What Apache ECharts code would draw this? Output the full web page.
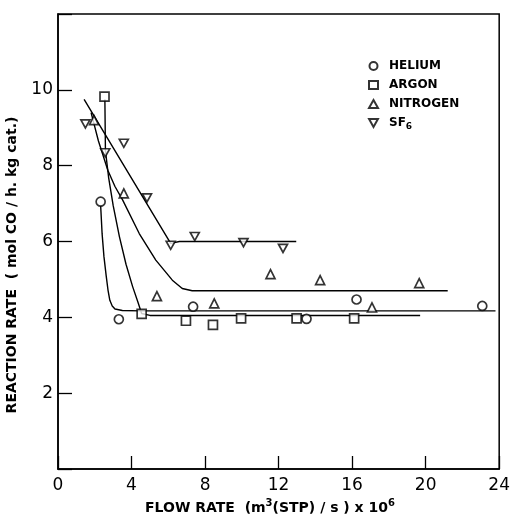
<!DOCTYPE html>
<html><head><meta charset="utf-8">
<script src="https://cdn.jsdelivr.net/npm/echarts@6/dist/echarts.min.js"></script>
<style>html,body{margin:0;padding:0;background:#fff}#c{width:513px;height:526px}</style>
</head><body><div id="c"></div>
<script>
// ---- data ----
const xTickValues = [0, 4, 8, 12, 16, 20, 24];
const yTickValues = [2, 4, 6, 8, 10];
const seriesNames = ['HELIUM', 'ARGON', 'NITROGEN', 'SF6'];

const heliumPts   = [[2.32, 7.05], [3.31, 3.95], [7.35, 4.28], [13.52, 3.96], [16.24, 4.47], [23.08, 4.30]];
const argonPts    = [[2.53, 9.82], [4.55, 4.09], [6.96, 3.91], [8.43, 3.80], [9.96, 3.97], [12.98, 3.97], [16.11, 3.97]];
const nitrogenPts = [[1.96, 9.20], [3.58, 7.27], [5.38, 4.56], [8.50, 4.37], [11.56, 5.14], [14.26, 4.98], [17.08, 4.26], [19.65, 4.90]];
const sf6Pts      = [[1.49, 9.10], [2.57, 8.34], [3.58, 8.59], [4.84, 7.15], [6.13, 5.90], [7.44, 6.13], [10.09, 5.97], [12.24, 5.82]];

// hand-drawn fitted curves
const heliumCurve   = [[2.32, 6.95], [2.40, 6.20], [2.50, 5.60], [2.62, 5.10], [2.72, 4.72], [2.82, 4.45], [2.95, 4.30], [3.10, 4.22], [3.50, 4.18], [4.5, 4.17], [23.8, 4.17]];
const argonCurve    = [[2.55, 9.75], [2.58, 8.40], [2.75, 7.70], [3.00, 6.95], [3.34, 6.13], [3.70, 5.40], [4.06, 4.81], [4.35, 4.40], [4.55, 4.10], [5.0, 4.05], [19.7, 4.05]];
const nitrogenCurve = [[1.80, 9.40], [2.20, 8.65], [2.71, 7.88], [3.10, 7.45], [3.52, 7.09], [4.42, 6.21], [5.32, 5.51], [6.22, 4.98], [6.76, 4.76], [7.30, 4.70], [9.0, 4.70], [21.2, 4.70]];
const sf6Curve      = [[1.42, 9.75], [6.13, 5.95], [6.60, 6.00], [12.96, 6.00]];

const chart = echarts.init(document.getElementById('c'));
const FONT = 'DejaVu Sans';
const DOWN_TRI = 'path://M0,0L10,0L5,9Z';
const markBase = {
  type: 'scatter', symbolSize: 9, z: 5,
  itemStyle: { color: '#fff', borderColor: '#000', borderWidth: 1.7 }
};
const lineBase = {
  type: 'line', symbol: 'none', smooth: false, silent: true, z: 3,
  lineStyle: { color: '#000', width: 1.4 }
};
chart.setOption({
  animation: false,
  backgroundColor: '#fff',
  grid: { left: 58, right: 10, top: 14, bottom: 57, show: true, borderColor: '#000', borderWidth: 1.5 },
  xAxis: {
    type: 'value', min: 0, max: 24, interval: 4,
    axisLine: { show: true, lineStyle: { color: '#000', width: 1.5 } },
    axisTick: { show: true, inside: true, length: 13, lineStyle: { color: '#000', width: 1.3 } },
    splitLine: { show: false },
    axisLabel: {
      color: '#000', fontFamily: FONT, fontSize: 17, margin: 8,
      formatter: v => xTickValues.includes(v) ? String(v) : ''
    }
  },
  yAxis: {
    type: 'value', min: 0, max: 12, interval: 2,
    axisLine: { show: true, lineStyle: { color: '#000', width: 1.5 } },
    axisTick: { show: true, inside: true, length: 14, lineStyle: { color: '#000', width: 1.3 } },
    splitLine: { show: false },
    axisLabel: {
      color: '#000', fontFamily: FONT, fontSize: 17, margin: 5,
      formatter: v => yTickValues.includes(v) ? String(v) : ''
    }
  },
  legend: {
    data: seriesNames,
    orient: 'vertical', left: 363, top: 55,
    itemWidth: 9, itemHeight: 8, itemGap: 7,
    textStyle: {
      fontFamily: FONT, fontSize: 12, color: '#000', fontWeight: 'bold', padding: [0, 0, 0, 6],
      rich: { s: { fontFamily: FONT, fontSize: 9, fontWeight: 'bold', color: '#000', padding: [7, 0, 0, 0] } }
    },
    formatter: n => n === 'SF6' ? 'SF{s|6}' : n
  },
  graphic: [
    {
      type: 'text', x: 12, y: 265, rotation: Math.PI / 2,
      style: {
        text: 'REACTION RATE  ( mol CO / h. kg cat.)',
        font: 'bold 14px "DejaVu Sans"', fill: '#000',
        align: 'center', verticalAlign: 'middle'
      }
    },
    {
      type: 'text', x: 270, y: 508,
      style: {
        text: 'FLOW RATE  (m{sup|3}(STP) / s ) x 10{sup|6}',
        font: 'bold 14px "DejaVu Sans"', fill: '#000',
        align: 'center', verticalAlign: 'middle',
        rich: { sup: { font: 'bold 10px "DejaVu Sans"', fill: '#000', padding: [0, 0, 9, 0] } }
      }
    }
  ],
  series: [
    Object.assign({}, lineBase, { name: 'heliumFit', data: heliumCurve }),
    Object.assign({}, lineBase, { name: 'argonFit', data: argonCurve }),
    Object.assign({}, lineBase, { name: 'nitrogenFit', data: nitrogenCurve }),
    Object.assign({}, lineBase, { name: 'sf6Fit', data: sf6Curve }),
    Object.assign({}, markBase, { name: 'HELIUM', symbol: 'circle', data: heliumPts }),
    Object.assign({}, markBase, { name: 'ARGON', symbol: 'rect', data: argonPts }),
    Object.assign({}, markBase, { name: 'NITROGEN', symbol: 'triangle', data: nitrogenPts }),
    Object.assign({}, markBase, { name: 'SF6', symbol: DOWN_TRI, symbolKeepAspect: true, data: sf6Pts })
  ]
});
</script></body></html>
